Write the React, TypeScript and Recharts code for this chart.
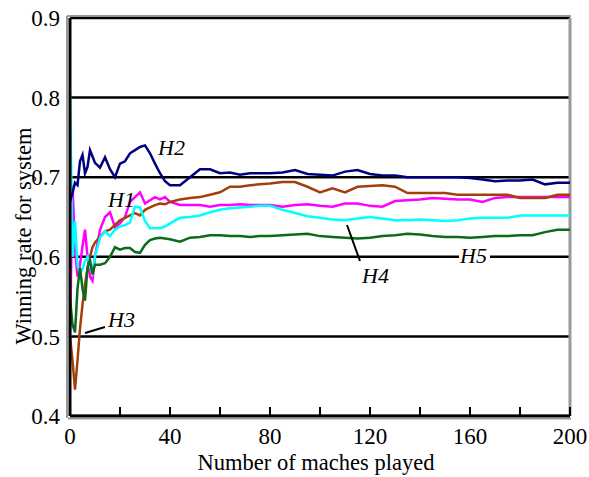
// Winning rate of the system against the number of matches played (H1..H5)
import { LineChart, Line, XAxis, YAxis, CartesianGrid, ReferenceLine } from 'recharts'

const matches = [0, 1, 2, 3, 4, 5, 6, 7, 8, 9, 10, 12, 14, 16, 18, 20, 22, 24, 26, 28, 30, 32, 34, 36, 38, 40,
  44, 48, 52, 56, 60, 64, 68, 72, 76, 80, 85, 90, 95, 100, 105, 110, 115, 120, 125, 130, 135, 140, 145, 150,
  155, 160, 165, 170, 175, 180, 185, 190, 195, 200]

const h1 = [0.5, 0.69, 0.61, 0.575, 0.59, 0.613, 0.634, 0.6, 0.575, 0.57, 0.6, 0.634, 0.65, 0.656, 0.637,
  0.642, 0.65, 0.669, 0.675, 0.681, 0.667, 0.671, 0.675, 0.672, 0.675, 0.669, 0.665, 0.665, 0.665, 0.663, 0.665,
  0.665, 0.666, 0.665, 0.665, 0.665, 0.663, 0.665, 0.666, 0.664, 0.663, 0.667, 0.667, 0.664, 0.663, 0.67, 0.671,
  0.672, 0.674, 0.673, 0.672, 0.672, 0.669, 0.674, 0.675, 0.675, 0.675, 0.675, 0.675, 0.675]

const h2 = [0.669, 0.68, 0.693, 0.69, 0.72, 0.728, 0.705, 0.713, 0.734, 0.726, 0.718, 0.712, 0.725, 0.71, 0.7,
  0.717, 0.72, 0.73, 0.734, 0.738, 0.74, 0.73, 0.717, 0.705, 0.695, 0.69, 0.69, 0.7, 0.71, 0.71, 0.705, 0.706,
  0.703, 0.705, 0.705, 0.705, 0.706, 0.709, 0.704, 0.703, 0.702, 0.707, 0.709, 0.704, 0.702, 0.702, 0.7, 0.7,
  0.7, 0.7, 0.7, 0.699, 0.697, 0.695, 0.696, 0.696, 0.697, 0.691, 0.693, 0.693]

const h3 = [0.5, 0.47, 0.433, 0.47, 0.51, 0.54, 0.565, 0.585, 0.6, 0.612, 0.618, 0.625, 0.632, 0.634, 0.64,
  0.646, 0.649, 0.652, 0.655, 0.652, 0.659, 0.662, 0.665, 0.667, 0.666, 0.669, 0.672, 0.674, 0.675, 0.678, 0.681,
  0.688, 0.688, 0.69, 0.691, 0.692, 0.694, 0.694, 0.688, 0.681, 0.686, 0.681, 0.688, 0.689, 0.69, 0.688, 0.68,
  0.68, 0.68, 0.68, 0.678, 0.678, 0.678, 0.678, 0.678, 0.674, 0.674, 0.674, 0.678, 0.678]

const h4 = [0.805, 0.6, 0.645, 0.59, 0.578, 0.585, 0.595, 0.6, 0.588, 0.58, 0.6, 0.624, 0.632, 0.626, 0.634,
  0.638, 0.64, 0.643, 0.663, 0.662, 0.645, 0.636, 0.636, 0.636, 0.638, 0.642, 0.649, 0.65, 0.652, 0.656, 0.659,
  0.661, 0.662, 0.663, 0.664, 0.664, 0.659, 0.655, 0.651, 0.649, 0.647, 0.646, 0.648, 0.65, 0.648, 0.646, 0.646,
  0.647, 0.646, 0.645, 0.646, 0.648, 0.649, 0.649, 0.649, 0.652, 0.652, 0.652, 0.652, 0.652]

const h5 = [0.548, 0.515, 0.505, 0.56, 0.586, 0.56, 0.545, 0.587, 0.596, 0.578, 0.59, 0.59, 0.592, 0.6, 0.612,
  0.609, 0.611, 0.611, 0.606, 0.605, 0.615, 0.621, 0.623, 0.624, 0.623, 0.622, 0.619, 0.624, 0.625, 0.627, 0.627,
  0.626, 0.626, 0.625, 0.626, 0.626, 0.627, 0.628, 0.629, 0.626, 0.625, 0.624, 0.623, 0.624, 0.626, 0.627, 0.629,
  0.628, 0.626, 0.625, 0.625, 0.624, 0.625, 0.626, 0.626, 0.627, 0.627, 0.631, 0.634, 0.634]

const xTicks = [0, 20, 40, 60, 80, 100, 120, 140, 160, 180, 200]
const xLabels = [0, 40, 80, 120, 160, 200]
const yTicks = [0.4, 0.5, 0.6, 0.7, 0.8, 0.9]

const FONT = "Liberation Serif, Tinos, Times New Roman, DejaVu Serif, serif"

function XTick(props: any) {
  const { x, y, payload } = props
  const v = payload.value
  return (
    <g>
      <line x1={x} x2={x} y1={y} y2={y - 9} stroke="#000" strokeWidth={2} />
      {xLabels.includes(v) && (
        <text x={x} y={y + 28} textAnchor="middle" fontSize={23} fontFamily={FONT} fill="#000">{v}</text>
      )}
    </g>
  )
}

export default function App() {
  const data = matches.map((m, i) => ({ m, h1: h1[i], h2: h2[i], h3: h3[i], h4: h4[i], h5: h5[i] }))
  return (
    <div style={{ position: 'absolute', left: 0, top: 0, width: 589, height: 477, background: '#fff', fontFamily: FONT }}>
      <LineChart width={589} height={477} data={data} margin={{ top: 18, right: 19, bottom: 0, left: 0 }}>
        <CartesianGrid vertical={false} stroke="#000" strokeWidth={2.5} />
        <ReferenceLine x={200} stroke="#999" strokeWidth={3} />
        <XAxis dataKey="m" type="number" domain={[0, 200]} ticks={xTicks} height={61} tickSize={0} tickMargin={0}
          tick={<XTick />} axisLine={{ stroke: '#000', strokeWidth: 3 }} />
        <YAxis type="number" domain={[0.4, 0.9]} ticks={yTicks} width={70} tickSize={0} tickMargin={10}
          tickFormatter={(v: number) => v.toFixed(1)} axisLine={{ stroke: '#000', strokeWidth: 3 }}
          tick={{ fill: '#000', fontSize: 23, fontFamily: FONT }} />
        <Line dataKey="h1" stroke="#FF00FF" strokeWidth={2.5} dot={false} isAnimationActive={false} />
        <Line dataKey="h3" stroke="#A33F0B" strokeWidth={2.5} dot={false} isAnimationActive={false} />
        <Line dataKey="h4" stroke="#00FFFF" strokeWidth={2.5} dot={false} isAnimationActive={false} />
        <Line dataKey="h5" stroke="#0B6B1B" strokeWidth={2.5} dot={false} isAnimationActive={false} />
        <Line dataKey="h2" stroke="#000080" strokeWidth={2.5} dot={false} isAnimationActive={false} />
      </LineChart>
      <svg width={589} height={477} style={{ position: 'absolute', left: 0, top: 0, pointerEvents: 'none' }}
        fontFamily={FONT} fill="#000">
        <line x1={67} x2={67} y1={16} y2={418} stroke="#999" strokeWidth={2} />
        <line x1={67} x2={571} y1={16} y2={16} stroke="#999" strokeWidth={2} />
        <line x1={68} x2={571} y1={418.5} y2={418.5} stroke="#999" strokeWidth={2} />
        <text x={23} y={236} transform="rotate(-90 23 236)" textAnchor="middle" dominantBaseline="central"
          fontSize={22.5}>Winning rate for system</text>
        <text x={316} y={470} textAnchor="middle" fontSize={22.5}>Number of maches played</text>
        <text x={158} y={155} fontSize={22} fontStyle="italic">H2</text>
        <text x={108} y={207} fontSize={22} fontStyle="italic">H1</text>
        <line x1={85} y1={333} x2={105} y2={327} stroke="#000" strokeWidth={2} />
        <text x={108} y={327} fontSize={22} fontStyle="italic">H3</text>
        <line x1={347} y1={225} x2={360} y2={261} stroke="#000" strokeWidth={2} />
        <text x={362} y={283} fontSize={22} fontStyle="italic">H4</text>
        <rect x={459} y={246} width={31} height={18} fill="#fff" />
        <text x={460} y={263} fontSize={22} fontStyle="italic">H5</text>
      </svg>
    </div>
  )
}
